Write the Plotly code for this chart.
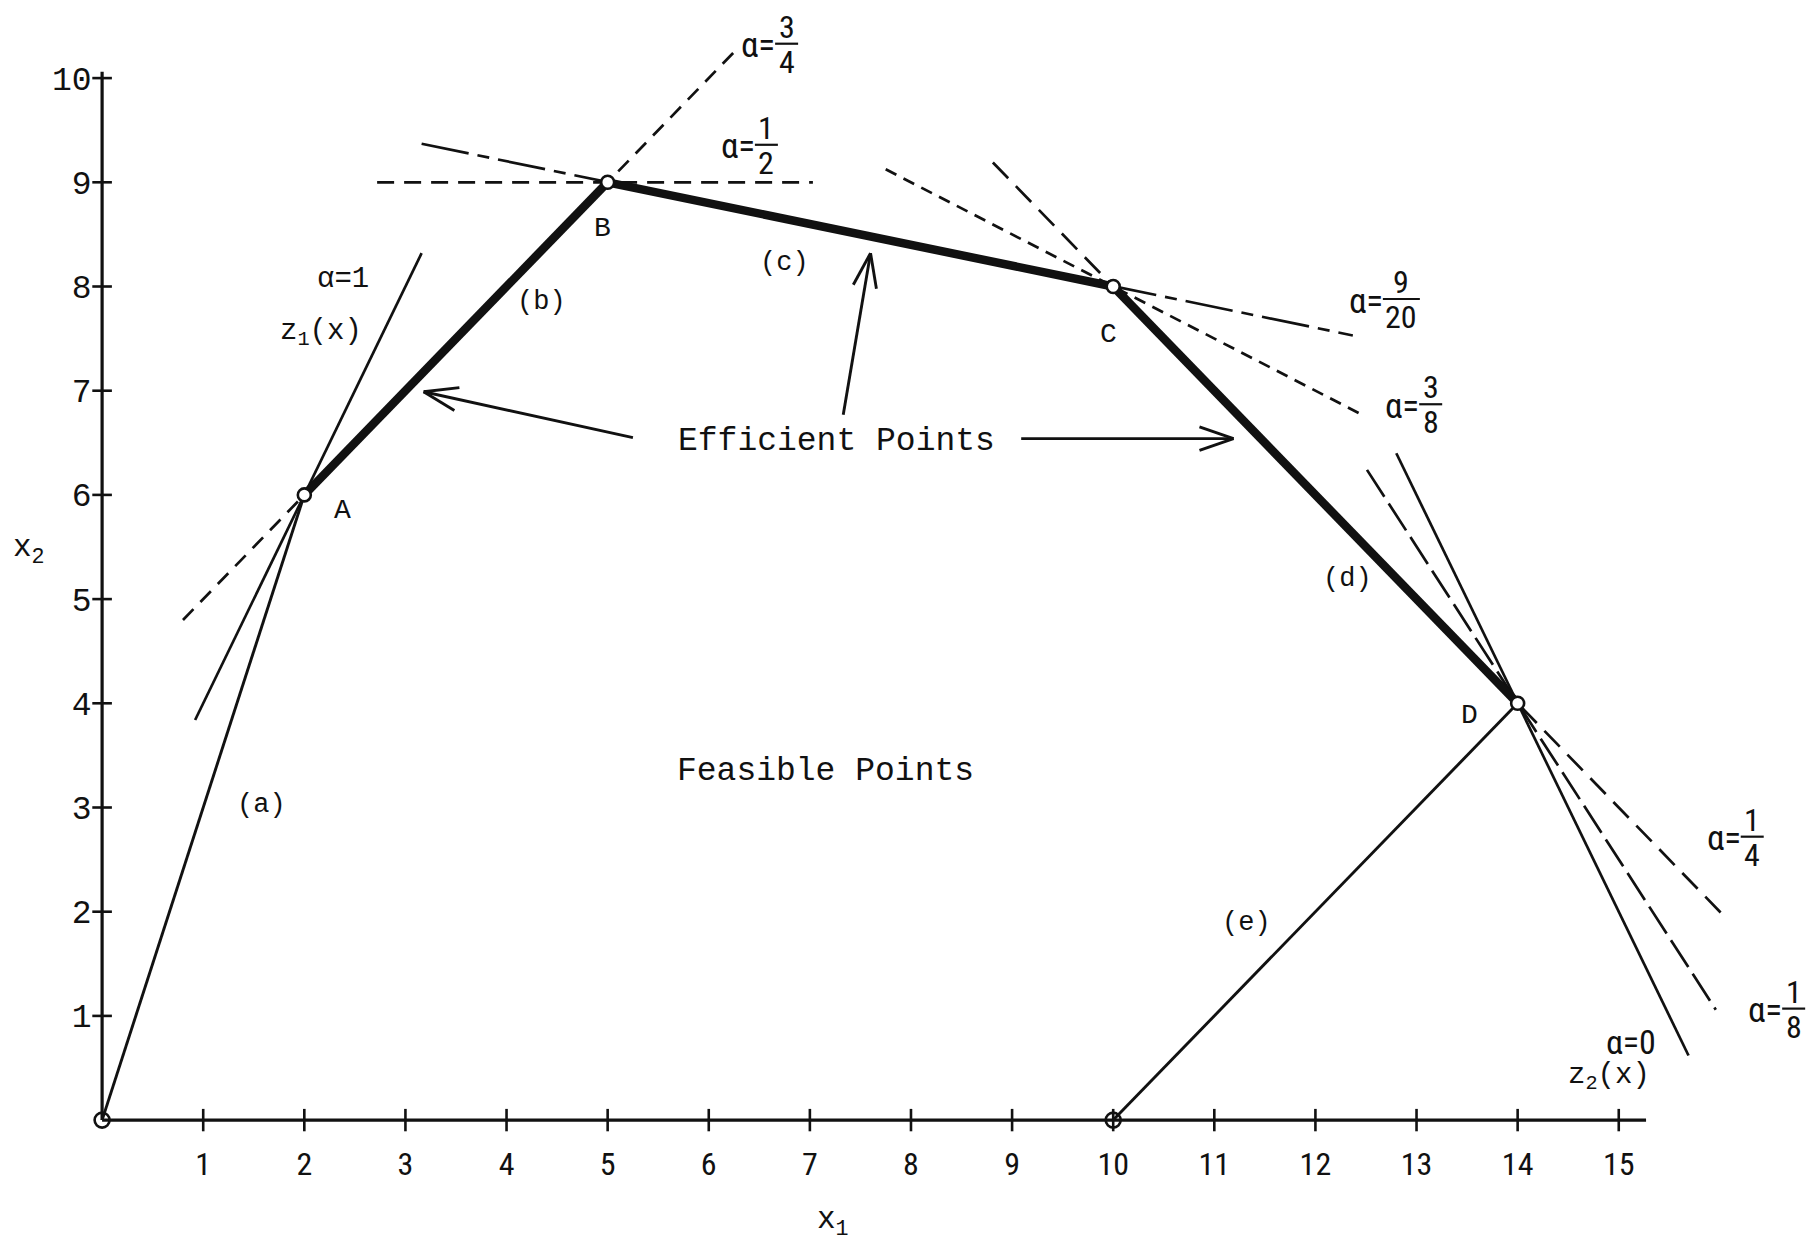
import math
import plotly.graph_objects as go

# ---------------- data ----------------
vertex_names = ["O", "A", "B", "C", "D", "E"]
vertex_x = [0, 2, 5, 10, 14, 10]
vertex_y = [0, 6, 9, 8, 4, 0]

# boundary segments: (label, from vertex, to vertex)
thin_segments = [("(a)", "O", "A"), ("(e)", "D", "E")]
thick_segments = [("(b)", "A", "B"), ("(c)", "B", "C"), ("(d)", "C", "D")]
segment_labels = ["(a)", "(b)", "(c)", "(d)", "(e)"]
segment_label_x = [1.58, 4.35, 6.75, 12.32, 11.32]
segment_label_y = [3.02, 7.85, 8.23, 5.19, 1.89]

# weighted-objective contour lines: alpha, endpoints
alpha_names = ["1", "3/4", "1/2", "9/20", "3/8", "1/4", "1/8", "0"]
alpha_x0 = [0.92, 0.80, 2.72, 3.16, 7.75, 8.81, 12.51, 12.80]
alpha_y0 = [3.84, 4.80, 9.00, 9.37, 9.125, 9.19, 6.24, 6.40]
alpha_x1 = [3.16, 6.30, 7.03, 12.37, 12.45, 16.02, 15.96, 15.69]
alpha_y1 = [8.32, 10.30, 9.00, 7.53, 6.775, 1.98, 1.06, 0.62]

# fraction labels alpha = num/den (position of fraction bar)
frac_num = ["3", "1", "9", "3", "1", "1"]
frac_den = ["4", "2", "20", "8", "4", "8"]
frac_x = [6.77, 6.57, 12.85, 13.14, 16.32, 16.73]
frac_y = [10.33, 9.36, 7.88, 6.87, 2.72, 1.07]

# "Efficient Points" arrows: tail -> head
arrow_tail_x = [5.25, 7.33, 9.09]
arrow_tail_y = [6.55, 6.77, 6.54]
arrow_head_x = [3.18, 7.60, 11.19]
arrow_head_y = [6.99, 8.32, 6.54]

x_ticks = list(range(1, 16))
y_ticks = list(range(1, 11))
x_axis_end = 15.27
y_axis_end = 10.06

# ---------------- layout geometry ----------------
# the page body has an 8px margin, so the figure starts at page pixel (8, 8)
PAGE_W, PAGE_H, BODY = 1820, 1246, 8
W, H = PAGE_W - BODY, PAGE_H - BODY
X0_PAGE, Y0_PAGE = 102.1, 1120.1      # page pixel of data origin
SX, SY = 101.11, 104.2                # pixels per data unit
XR = [(BODY - X0_PAGE) / SX, (PAGE_W - X0_PAGE) / SX]
YR = [-(PAGE_H - Y0_PAGE) / SY, (Y0_PAGE - BODY) / SY]
px_x = W / (XR[1] - XR[0])
px_y = H / (YR[1] - YR[0])

MONO = "Liberation Mono, Courier New, monospace"
NARROW = "Liberation Sans Narrow, Roboto Condensed, Liberation Sans, Arial Narrow, sans-serif"
BLACK = "#111"

vx = dict(zip(vertex_names, vertex_x))
vy = dict(zip(vertex_names, vertex_y))

fig = go.Figure()

def line(xs, ys, width=2.5, dash="solid"):
    fig.add_trace(go.Scatter(x=xs, y=ys, mode="lines",
                             line=dict(color=BLACK, width=width, dash=dash),
                             hoverinfo="skip", showlegend=False))

# axes lines
line([0, x_axis_end], [0, 0], width=3.2)
line([0, 0], [0, y_axis_end], width=3.2)
# tick marks (crossing the axes)
fig.add_trace(go.Scatter(x=x_ticks, y=[0] * len(x_ticks), mode="markers",
                         marker=dict(symbol="line-ns-open", size=16, color=BLACK,
                                     line=dict(color=BLACK, width=2.6)),
                         hoverinfo="skip", showlegend=False))
fig.add_trace(go.Scatter(x=[0] * len(y_ticks), y=y_ticks, mode="markers",
                         marker=dict(symbol="line-ew-open", size=14, color=BLACK,
                                     line=dict(color=BLACK, width=2.6)),
                         hoverinfo="skip", showlegend=False))

# alpha contour lines
alpha_dash = {
    "1": "solid",
    "3/4": "15px,10px",
    "1/2": "17px,10px",
    "9/20": "48px,9px,12px,9px",
    "3/8": "12px,8px",
    "1/4": "22px,11px",
    "1/8": "32px,8px",
    "0": "solid",
}
for nm, x0, y0, x1, y1 in zip(alpha_names, alpha_x0, alpha_y0, alpha_x1, alpha_y1):
    line([x0, x1], [y0, y1], width=2.7, dash=alpha_dash[nm])

# boundary
for _, a, b in thin_segments:
    line([vx[a], vx[b]], [vy[a], vy[b]], width=2.9)
for _, a, b in thick_segments:
    line([vx[a], vx[b]], [vy[a], vy[b]], width=8.5)

# arrows with open V heads
head_len = 36
half_ang = math.radians(19)
for tx, ty, hx, hy in zip(arrow_tail_x, arrow_tail_y, arrow_head_x, arrow_head_y):
    line([tx, hx], [ty, hy], width=2.9)
    dxp = (tx - hx) * px_x
    dyp = (ty - hy) * px_y
    ang = math.atan2(dyp, dxp)
    xs, ys = [], []
    for s in (1, -1):
        a = ang + s * half_ang
        xs += [hx + head_len * math.cos(a) / px_x, hx, None]
        ys += [hy + head_len * math.sin(a) / px_y, hy, None]
    line(xs, ys, width=2.9)

# vertex markers
fig.add_trace(go.Scatter(x=vertex_x[1:5], y=vertex_y[1:5], mode="markers",
                         marker=dict(symbol="circle", size=13, color="white",
                                     line=dict(color=BLACK, width=2.6)),
                         hoverinfo="skip", showlegend=False))
fig.add_trace(go.Scatter(x=[vertex_x[0], vertex_x[5]], y=[vertex_y[0], vertex_y[5]],
                         mode="markers",
                         marker=dict(symbol="circle-open", size=15, color=BLACK,
                                     line=dict(color=BLACK, width=2.6)),
                         hoverinfo="skip", showlegend=False))

# ---------------- annotations ----------------
ann = []
def text(x, y, s, size=26, family=MONO, **kw):
    d = dict(x=x, y=y, xref="x", yref="y", text=s, showarrow=False,
             font=dict(family=family, size=size, color=BLACK))
    d.update(kw)
    ann.append(d)

# vertex letters
vertex_label_x = [2.38, 4.95, 9.95, 13.52]
vertex_label_y = [5.85, 8.56, 7.54, 3.88]
for nm, x, y in zip(vertex_names[1:5], vertex_label_x, vertex_label_y):
    text(x, y, nm, size=28)

for s, x, y in zip(segment_labels, segment_label_x, segment_label_y):
    text(x, y, s, size=27)

text(7.26, 6.51, "Efficient Points", size=33)
text(7.15, 3.35, "Feasible Points", size=33)

text(2.38, 8.07, "α=1", size=29)
text(2.16, 7.55, "z<sub>1</sub>(x)", size=29)
text(15.12, 0.75, "α=0", size=34, family=NARROW)
text(14.90, 0.41, "z<sub>2</sub>(x)", size=29)

text(-0.72, 5.47, "x<sub>2</sub>", size=31)
text(7.23, -0.98, "x<sub>1</sub>", size=31)

# fraction labels
shapes = []
for n, d, x, y in zip(frac_num, frac_den, frac_x, frac_y):
    w = 14 * max(len(n), len(d)) + 9
    text(x, y, "α=", size=35, family=NARROW, xanchor="right",
         xshift=-w / 2 + 2, yshift=-2)
    text(x, y, n, size=32, family=NARROW, yshift=17)
    text(x, y, d, size=32, family=NARROW, yshift=-18)
    shapes.append(dict(type="line", xref="x", yref="y",
                       xsizemode="pixel", ysizemode="pixel",
                       xanchor=x, yanchor=y, x0=-w / 2, x1=w / 2, y0=0, y1=0,
                       line=dict(color=BLACK, width=2.2)))

fig.update_layout(
    width=W, height=H,
    margin=dict(l=0, r=0, t=0, b=0),
    paper_bgcolor="white", plot_bgcolor="white",
    showlegend=False,
    annotations=ann, shapes=shapes,
    xaxis=dict(range=XR, showgrid=False, zeroline=False, showline=False,
               tickvals=x_ticks, ticktext=[str(v) for v in x_ticks],
               ticks="outside", ticklen=15, tickcolor="rgba(0,0,0,0)",
               tickfont=dict(family=NARROW, size=32, color=BLACK),
               anchor="free", position=(0 - YR[0]) / (YR[1] - YR[0]),
               fixedrange=True),
    yaxis=dict(range=YR, showgrid=False, zeroline=False, showline=False,
               tickvals=y_ticks, ticktext=[str(v) for v in y_ticks],
               ticks="outside", ticklen=4, tickcolor="rgba(0,0,0,0)",
               tickfont=dict(family=MONO, size=33, color=BLACK),
               anchor="free", position=(0 - XR[0]) / (XR[1] - XR[0]),
               fixedrange=True),
)

fig.write_html("out.html")
